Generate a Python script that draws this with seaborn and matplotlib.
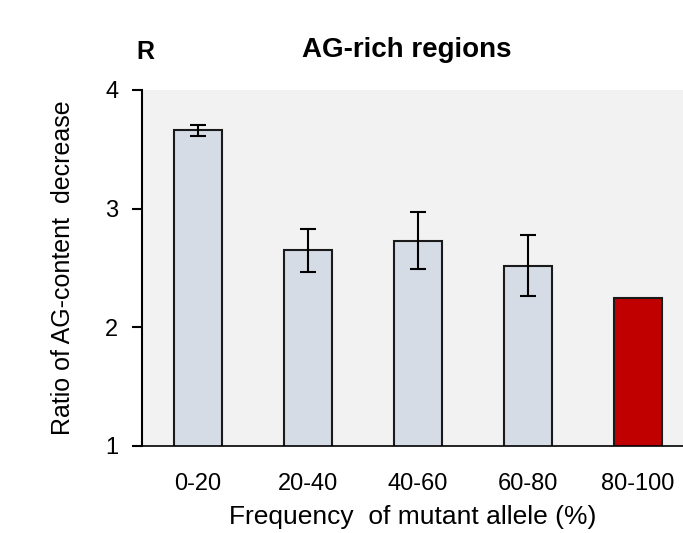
import numpy as np
import matplotlib
matplotlib.use('Agg')
import matplotlib.pyplot as plt
import seaborn as sns
import pandas as pd

categories = ['0-20', '20-40', '40-60', '60-80', '80-100']
ratios = [3.66, 2.65, 2.73, 2.52, 2.25]
errors = [0.045, 0.18, 0.24, 0.26, 0.0]
colours = ['#d6dce5', '#d6dce5', '#d6dce5', '#d6dce5', '#c00000']

sns.set_style('white')
plt.rcParams['font.family'] = ['Liberation Sans', 'DejaVu Sans']
plt.rcParams['text.color'] = 'black'
plt.rcParams['axes.labelcolor'] = 'black'
plt.rcParams['xtick.color'] = 'black'
plt.rcParams['ytick.color'] = 'black'

df = pd.DataFrame({'freq': categories, 'ratio': ratios})

fig = plt.figure(figsize=(6.83, 5.33), dpi=100)
ax = fig.add_axes([142 / 683, 1 - 446 / 533, (683 - 142) / 683, (446 - 90) / 533])
ax.set_facecolor('#f2f2f2')

sns.barplot(data=df, x='freq', y='ratio', hue='freq', palette=colours, legend=False,
            saturation=1, width=0.43, edgecolor='#1a1a1a', linewidth=1.5, ax=ax)
ax.errorbar(np.arange(len(categories))[:4], ratios[:4], yerr=errors[:4], fmt='none',
            ecolor='black', elinewidth=1.5, capsize=6, capthick=1.5)

ax.set_ylim(1, 4)
ax.set_xlim(-0.51, 4.41)
ax.set_yticks([1, 2, 3, 4])
for s in ['top', 'right']:
    ax.spines[s].set_visible(False)
ax.spines['left'].set_color('black')
ax.spines['bottom'].set_color('black')
ax.spines['left'].set_linewidth(1.5)
ax.spines['bottom'].set_linewidth(1.2)
ax.tick_params(axis='y', left=True, length=7, width=1.5, labelsize=17, pad=10)
ax.tick_params(axis='x', bottom=False, labelsize=17, pad=16)

ax.set_xlabel('Frequency  of mutant allele (%)', fontsize=19, labelpad=7)
ax.set_ylabel('Ratio of AG-content  decrease', fontsize=18, labelpad=22)
ax.set_title('AG-rich regions', fontsize=20, fontweight='bold', pad=24, x=0.49)
fig.text(145 / 683, 1 - 52 / 533, 'R', fontsize=18, fontweight='bold', va='center', ha='center')

fig.savefig('out.png', dpi=100)
